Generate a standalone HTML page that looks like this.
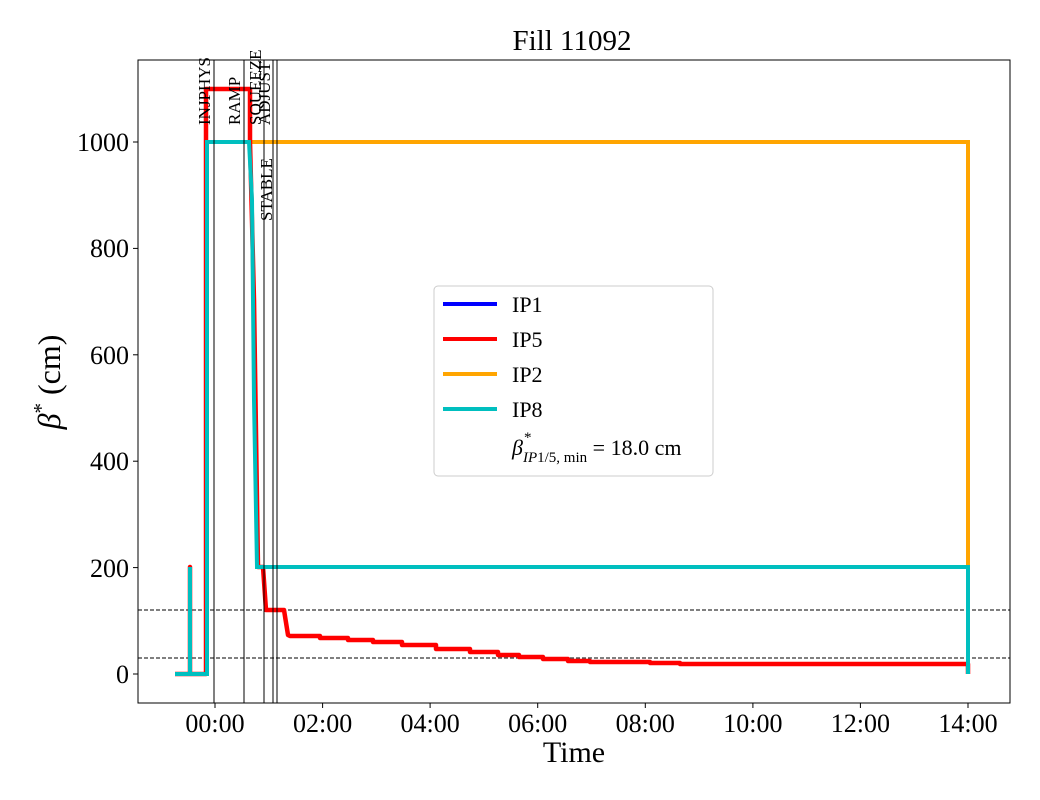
<!DOCTYPE html>
<html><head><meta charset="utf-8"><style>body{margin:0;background:#fff}svg{display:block}text{font-family:"Liberation Serif",serif;fill:#000}</style></head><body>
<svg width="1040" height="800" viewBox="0 0 1040 800">
<text x="572" y="50" font-size="29" text-anchor="middle">Fill 11092</text>
<line x1="138" y1="610" x2="1010" y2="610" stroke="#000" stroke-width="1" stroke-dasharray="4,2"/>
<line x1="138" y1="658" x2="1010" y2="658" stroke="#000" stroke-width="1" stroke-dasharray="4,2"/>
<polyline fill="none" stroke="#ffa500" stroke-width="4" points="250,142 968,142 968,567 968,674"/>
<polyline fill="none" stroke="#ff0000" stroke-width="4.5" stroke-linejoin="round" points="175,674 190,674 190,567 190,674 206,674 206,89 250,89 250,142 254,300 258,567 263,567 266,610 284,610 288,635 290,636 320,636 320,638 348,638 348,640 373,640 373,642 402,642 402,645 436,645 436,649 470,649 470,652 498,652 498,655 519,655 519,657 543,657 543,659 568,659 568,661 590,661 590,662 650,662 650,663 680,663 680,664 968,664 968,674"/>
<polyline fill="none" stroke="#00bfbf" stroke-width="4" points="175,674 190,674 190,567 190,674 207,674 207,142 249,142 252,200 254,400 257,567 968,567 968,674"/>
<g stroke="#000" stroke-width="1">
<line x1="214" y1="60" x2="214" y2="703"/><line x1="244" y1="60" x2="244" y2="703"/><line x1="264" y1="60" x2="264" y2="703"/><line x1="273" y1="60" x2="273" y2="703"/><line x1="277" y1="60" x2="277" y2="703"/>
</g>
<g font-size="17">
<text transform="translate(210,125) rotate(-90)">INJPHYS</text>
<text transform="translate(240,125) rotate(-90)">RAMP</text>
<text transform="translate(261,125) rotate(-90)">SQUEEZE</text>
<text transform="translate(270,125) rotate(-90)">ADJUST</text>
<text transform="translate(272,221) rotate(-90)">STABLE</text>
</g>
<rect x="138" y="60" width="872" height="643" fill="none" stroke="#000" stroke-width="1"/>
<g font-size="26" text-anchor="end">
<line x1="133" y1="674" x2="138" y2="674" stroke="#000"/><text x="129" y="683">0</text>
<line x1="133" y1="567.6" x2="138" y2="567.6" stroke="#000"/><text x="129" y="577">200</text>
<line x1="133" y1="461.2" x2="138" y2="461.2" stroke="#000"/><text x="129" y="470">400</text>
<line x1="133" y1="354.8" x2="138" y2="354.8" stroke="#000"/><text x="129" y="364">600</text>
<line x1="133" y1="248.4" x2="138" y2="248.4" stroke="#000"/><text x="129" y="257">800</text>
<line x1="133" y1="142" x2="138" y2="142" stroke="#000"/><text x="129" y="151">1000</text>
</g>
<g font-size="26" text-anchor="middle">
<line x1="215" y1="703" x2="215" y2="708" stroke="#000"/><text x="215" y="732">00:00</text>
<line x1="322.6" y1="703" x2="322.6" y2="708" stroke="#000"/><text x="322.6" y="732">02:00</text>
<line x1="430.1" y1="703" x2="430.1" y2="708" stroke="#000"/><text x="430.1" y="732">04:00</text>
<line x1="537.7" y1="703" x2="537.7" y2="708" stroke="#000"/><text x="537.7" y="732">06:00</text>
<line x1="645.3" y1="703" x2="645.3" y2="708" stroke="#000"/><text x="645.3" y="732">08:00</text>
<line x1="752.9" y1="703" x2="752.9" y2="708" stroke="#000"/><text x="752.9" y="732">10:00</text>
<line x1="860.4" y1="703" x2="860.4" y2="708" stroke="#000"/><text x="860.4" y="732">12:00</text>
<line x1="968" y1="703" x2="968" y2="708" stroke="#000"/><text x="968" y="732">14:00</text>
</g>
<text x="574" y="762" font-size="30" text-anchor="middle">Time</text>
<text transform="translate(60,382) rotate(-90)" font-size="32" text-anchor="middle"><tspan font-style="italic">β</tspan><tspan font-size="21" dy="-12">*</tspan><tspan dy="12"> (cm)</tspan></text>
<rect x="434" y="286" width="279" height="190" rx="4" fill="#fff" stroke="#ccc" stroke-width="1"/>
<g stroke-width="4">
<line x1="443" y1="304" x2="497" y2="304" stroke="#0000ff"/>
<line x1="443" y1="339" x2="497" y2="339" stroke="#ff0000"/>
<line x1="443" y1="374" x2="497" y2="374" stroke="#ffa500"/>
<line x1="443" y1="409" x2="497" y2="409" stroke="#00bfbf"/>
</g>
<g font-size="22">
<text x="512" y="312">IP1</text><text x="512" y="347">IP5</text><text x="512" y="382">IP2</text><text x="512" y="417">IP8</text>
<text x="512" y="455"><tspan font-style="italic">β</tspan><tspan font-size="15" font-style="italic" dy="7">IP</tspan><tspan font-size="15" dy="0">1/5, min</tspan><tspan dy="-7"> = 18.0 cm</tspan></text>
<text x="524" y="442" font-size="15">*</text>
</g>
</svg>
</body></html>
